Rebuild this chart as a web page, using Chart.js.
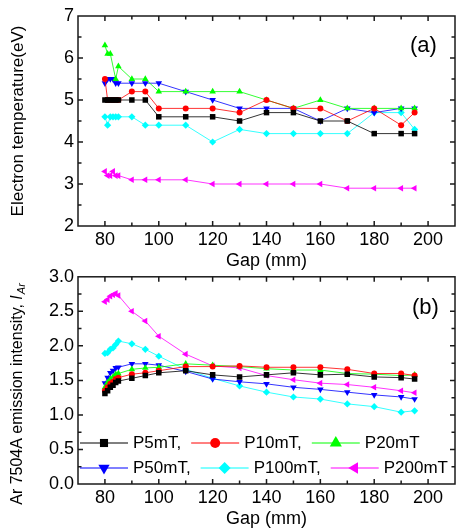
<!DOCTYPE html>
<html>
<head>
<meta charset="utf-8">
<script src="https://cdn.jsdelivr.net/npm/chart.js@4/dist/chart.umd.min.js"></script>
<style>
  html, body { margin: 0; padding: 0; background: #fff; overflow: hidden; }
  #wrap { position: relative; width: 459px; height: 529px; }
  #wrap canvas { position: absolute; left: 0; }
</style>
</head>
<body>
<div id="wrap">
  <canvas id="chart-te" width="459" height="272" style="top:0"></canvas>
  <canvas id="chart-ar" width="459" height="268" style="top:262px"></canvas>
</div>
<script>
'use strict';

// Gap between electrodes (mm)
var gap = [80, 81, 82, 83, 84, 85, 90, 95, 100, 110, 120, 130, 140, 150, 160, 170, 180, 190, 195];

// (a) electron temperature (eV)
var teP5 = [5.0, 5.0, 5.0, 5.0, 5.0, 5.0, 5.0, 5.0, 4.6, 4.6, 4.6, 4.5, 4.7, 4.7, 4.5, 4.5, 4.2, 4.2, 4.2];
var teP10 = [5.5, 5.0, 5.0, 5.0, 5.0, 5.0, 5.2, 5.2, 4.8, 4.8, 4.8, 4.7, 5.0, 4.8, 4.8, 4.5, 4.8, 4.4, 4.7];
var teP20 = [6.3, 6.1, 6.1, null, 5.5, 5.8, 5.5, 5.5, 5.2, 5.2, 5.2, 5.2, 5.0, 4.8, 5.0, 4.8, 4.8, 4.8, 4.8];
var teP50 = [5.4, 5.5, 5.5, 5.5, 5.4, 5.4, 5.4, 5.4, 5.4, 5.2, 5.0, 4.8, 4.8, 4.8, 4.5, 4.8, 4.7, 4.8, 4.8];
var teP100 = [4.6, 4.4, 4.6, 4.6, 4.6, 4.6, 4.6, 4.4, 4.4, 4.4, 4.0, 4.3, 4.2, 4.2, 4.2, 4.2, 4.7, 4.7, 4.3];
var teP200 = [3.3, 3.2, 3.2, 3.3, 3.2, 3.2, 3.1, 3.1, 3.1, 3.1, 3.0, 3.0, 3.0, 3.0, 3.0, 2.9, 2.9, 2.9, 2.9];

// (b) Ar 750.4 nm emission intensity
var arP5 = [1.31, 1.35, 1.40, 1.43, 1.47, 1.49, 1.53, 1.57, 1.61, 1.64, 1.58, 1.55, 1.58, 1.61, 1.58, 1.59, 1.55, 1.54, 1.52];
var arP10 = [1.35, 1.40, 1.45, 1.48, 1.52, 1.54, 1.59, 1.61, 1.64, 1.70, 1.70, 1.71, 1.69, 1.69, 1.69, 1.66, 1.60, 1.60, 1.57];
var arP20 = [1.40, 1.47, 1.52, 1.55, 1.59, 1.60, 1.66, 1.68, 1.69, 1.74, 1.72, 1.70, 1.67, 1.65, 1.65, 1.60, 1.59, 1.57, 1.58];
var arP50 = [1.46, 1.54, 1.61, 1.64, 1.68, 1.69, 1.74, 1.74, 1.72, 1.63, 1.52, 1.48, 1.45, 1.40, 1.37, 1.33, 1.29, 1.26, 1.23];
var arP100 = [1.89, 1.90, 1.95, 1.97, 2.02, 2.07, 2.03, 1.95, 1.85, 1.66, 1.53, 1.42, 1.33, 1.26, 1.23, 1.16, 1.12, 1.04, 1.06];
var arP200 = [2.64, 2.67, 2.72, 2.74, 2.76, 2.73, 2.50, 2.36, 2.14, 1.88, 1.71, 1.68, 1.57, 1.51, 1.46, 1.44, 1.40, 1.35, 1.32];

var seriesNames = ['P5mT,', 'P10mT,', 'P20mT', 'P50mT,', 'P100mT,', 'P200mT'];
var gapTicks = [80, 100, 120, 140, 160, 180, 200];
var teTicks = [2, 3, 4, 5, 6, 7];
var arTicks = [0, 0.5, 1.0, 1.5, 2.0, 2.5, 3.0];

var FONT = "'Liberation Sans', Arial, sans-serif";

// marker look for each pressure
var styles = [
  { color: '#000000', shape: 'rect', rotation: 0, radius: 3.9, legendRadius: 5.4 },
  { color: '#ff0000', shape: 'circle', rotation: 0, radius: 3, legendRadius: 5 },
  { color: '#00ff00', shape: 'triangle', rotation: 0, radius: 3.8, legendRadius: 7 },
  { color: '#0000ff', shape: 'triangle', rotation: 180, radius: 3.8, legendRadius: 6.5 },
  { color: '#00ffff', shape: 'rectRot', rotation: 0, radius: 3.6, legendRadius: 6 },
  { color: '#ff00ff', shape: 'triangle', rotation: -90, radius: 3.8, legendRadius: 6.5 }
];

var toPoints = function(ys) {
  return gap
    .map(function(g, i) { return { x: g, y: ys[i] }; })
    .filter(function(p) { return p.y !== null; });
};

var makeDatasets = function(seriesList) {
  return seriesList.map(function(ys, i) {
    var s = styles[i];
    return {
      label: seriesNames[i],
      data: toPoints(ys),
      borderColor: s.color,
      backgroundColor: s.color,
      borderWidth: 0.8,
      pointStyle: s.shape,
      pointRotation: s.rotation,
      pointRadius: s.radius,
      pointBorderWidth: 0,
      pointBackgroundColor: s.color,
      spanGaps: true,
      tension: 0
    };
  });
};

// plain marker drawing, used by the in-plot legend
var drawMarker = function(ctx, shape, rotation, r, x, y) {
  ctx.save();
  ctx.translate(x, y);
  ctx.rotate(rotation * Math.PI / 180);
  ctx.beginPath();
  if (shape === 'circle') {
    ctx.arc(0, 0, r, 0, 2 * Math.PI);
  } else if (shape === 'rect') {
    ctx.rect(-r * 0.75, -r * 0.75, r * 1.5, r * 1.5);
  } else if (shape === 'rectRot') {
    ctx.moveTo(0, -r);
    ctx.lineTo(r, 0);
    ctx.lineTo(0, r);
    ctx.lineTo(-r, 0);
  } else {
    ctx.moveTo(0, -r);
    ctx.lineTo(r * 0.866, r * 0.5);
    ctx.lineTo(-r * 0.866, r * 0.5);
  }
  ctx.closePath();
  ctx.fill();
  ctx.restore();
};

// box around the plot with inward ticks on all four sides
var frameTicks = {
  id: 'frameTicks',
  afterDraw: function(chart, args, opts) {
    var ctx = chart.ctx;
    var a = chart.chartArea;
    var xs = chart.scales.x;
    var ys = chart.scales.y;
    var v, px, len;
    ctx.save();
    ctx.strokeStyle = '#1a1a1a';
    ctx.lineWidth = 1.5;
    ctx.strokeRect(a.left, a.top, a.right - a.left, a.bottom - a.top);
    ctx.beginPath();
    for (v = 80; v <= 200; v += 10) {
      px = xs.getPixelForValue(v);
      len = v % 20 === 0 ? 5 : 3.5;
      ctx.moveTo(px, a.bottom);
      ctx.lineTo(px, a.bottom - len);
      ctx.moveTo(px, a.top);
      ctx.lineTo(px, a.top + len);
    }
    for (v = ys.min + opts.yMinor; v < ys.max - 1e-6; v += opts.yMinor) {
      px = ys.getPixelForValue(v);
      var k = v / opts.yMajor;
      len = Math.abs(k - Math.round(k)) < 1e-6 ? 5 : 3.5;
      ctx.moveTo(a.left, px);
      ctx.lineTo(a.left + len, px);
      ctx.moveTo(a.right, px);
      ctx.lineTo(a.right - len, px);
    }
    ctx.stroke();
    ctx.restore();
  }
};

// "(a)" / "(b)" tag in the upper right corner
var panelTag = {
  id: 'panelTag',
  afterDraw: function(chart, args, opts) {
    if (!opts.text) return;
    var ctx = chart.ctx;
    ctx.save();
    ctx.fillStyle = '#000';
    ctx.font = '22px ' + FONT;
    ctx.textBaseline = 'middle';
    ctx.fillText(opts.text, opts.x, opts.y);
    ctx.restore();
  }
};

// two-row legend drawn inside the lower plot
var rowLegend = {
  id: 'rowLegend',
  afterDraw: function(chart, args, opts) {
    if (!opts.rows) return;
    var ctx = chart.ctx;
    var sets = chart.data.datasets;
    ctx.save();
    ctx.font = '17px ' + FONT;
    ctx.textBaseline = 'middle';
    opts.rows.forEach(function(row, r) {
      var x = opts.x;
      var y = opts.y[r];
      row.forEach(function(idx) {
        var s = styles[idx];
        ctx.strokeStyle = s.color;
        ctx.fillStyle = s.color;
        ctx.lineWidth = 1;
        ctx.beginPath();
        ctx.moveTo(x, y);
        ctx.lineTo(x + 48, y);
        ctx.stroke();
        drawMarker(ctx, s.shape, s.rotation, s.legendRadius, x + 24, y);
        ctx.fillStyle = '#000';
        ctx.fillText(sets[idx].label, x + 53, y);
        x += 53 + ctx.measureText(sets[idx].label).width + 10;
      });
    });
    ctx.restore();
  }
};

// rotated y title with italic I and subscript Ar
var intensityTitle = {
  id: 'intensityTitle',
  afterDraw: function(chart, args, opts) {
    if (!opts.show) return;
    var ctx = chart.ctx;
    var main = 'Ar 7504A emission intensity, ';
    ctx.save();
    ctx.fillStyle = '#000';
    ctx.textBaseline = 'middle';
    ctx.font = '16px ' + FONT;
    var w1 = ctx.measureText(main).width;
    ctx.font = 'italic 16px ' + FONT;
    var w2 = ctx.measureText('I').width;
    ctx.font = 'italic 11px ' + FONT;
    var w3 = ctx.measureText('Ar').width;
    var total = w1 + w2 + w3 + 1;
    ctx.translate(opts.x, opts.y);
    ctx.rotate(-Math.PI / 2);
    var x0 = -total / 2;
    ctx.font = '16px ' + FONT;
    ctx.fillText(main, x0, 0);
    ctx.font = 'italic 16px ' + FONT;
    ctx.fillText('I', x0 + w1, 0);
    ctx.font = 'italic 11px ' + FONT;
    ctx.fillText('Ar', x0 + w1 + w2 + 1, 4);
    ctx.restore();
  }
};

var xScale = function() {
  return {
    type: 'linear',
    min: 70,
    max: 210,
    afterBuildTicks: function(s) {
      s.ticks = gapTicks.map(function(v) { return { value: v }; });
    },
    afterFit: function(s) { s.height = 46; },
    grid: { display: false, drawTicks: false },
    border: { display: false },
    ticks: { color: '#000', font: { size: 18, family: FONT }, padding: 3, maxRotation: 0 },
    title: {
      display: true,
      text: 'Gap (mm)',
      color: '#000',
      font: { size: 18, family: FONT },
      padding: { top: 0, bottom: 0 }
    }
  };
};

var baseOptions = function() {
  return {
    responsive: false,
    animation: false,
    devicePixelRatio: 1,
    events: [],
    plugins: {
      legend: { display: false },
      tooltip: { enabled: false }
    }
  };
};

// (a) electron temperature
var teOptions = baseOptions();
teOptions.layout = { padding: { top: 16, right: 0, left: 0, bottom: 0 } };
teOptions.scales = {
  x: xScale(),
  y: {
    type: 'linear',
    min: 2,
    max: 7,
    afterBuildTicks: function(s) {
      s.ticks = teTicks.map(function(v) { return { value: v }; });
    },
    afterFit: function(s) { s.width = 78; },
    grid: { display: false, drawTicks: false },
    border: { display: false },
    ticks: { color: '#000', font: { size: 18, family: FONT }, padding: 4 },
    title: {
      display: true,
      text: 'Electron temperature(eV)',
      color: '#000',
      font: { size: 17, family: FONT },
      padding: { top: 8, bottom: 0 }
    }
  }
};
teOptions.plugins.frameTicks = { yMinor: 0.5, yMajor: 1 };
teOptions.plugins.panelTag = { text: '(a)', x: 410, y: 46 };

new Chart(document.getElementById('chart-te'), {
  type: 'line',
  data: { datasets: makeDatasets([teP5, teP10, teP20, teP50, teP100, teP200]) },
  options: teOptions,
  plugins: [frameTicks, panelTag]
});

// (b) Ar line intensity
var arOptions = baseOptions();
arOptions.layout = { padding: { top: 13, right: 0, left: 0, bottom: 0 } };
arOptions.scales = {
  x: xScale(),
  y: {
    type: 'linear',
    min: 0,
    max: 3,
    afterBuildTicks: function(s) {
      s.ticks = arTicks.map(function(v) { return { value: v }; });
    },
    afterFit: function(s) { s.width = 78; },
    grid: { display: false, drawTicks: false },
    border: { display: false },
    ticks: {
      color: '#000',
      font: { size: 18, family: FONT },
      padding: 4,
      callback: function(v) { return Number(v).toFixed(1); }
    }
  }
};
arOptions.plugins.frameTicks = { yMinor: 0.25, yMajor: 0.5 };
arOptions.plugins.panelTag = { text: '(b)', x: 412, y: 46 };
arOptions.plugins.rowLegend = { rows: [[0, 1, 2], [3, 4, 5]], x: 80, y: [181, 206] };
arOptions.plugins.intensityTitle = { show: true, x: 18, y: 132 };

new Chart(document.getElementById('chart-ar'), {
  type: 'line',
  data: { datasets: makeDatasets([arP5, arP10, arP20, arP50, arP100, arP200]) },
  options: arOptions,
  plugins: [frameTicks, panelTag, rowLegend, intensityTitle]
});
</script>
</body>
</html>
